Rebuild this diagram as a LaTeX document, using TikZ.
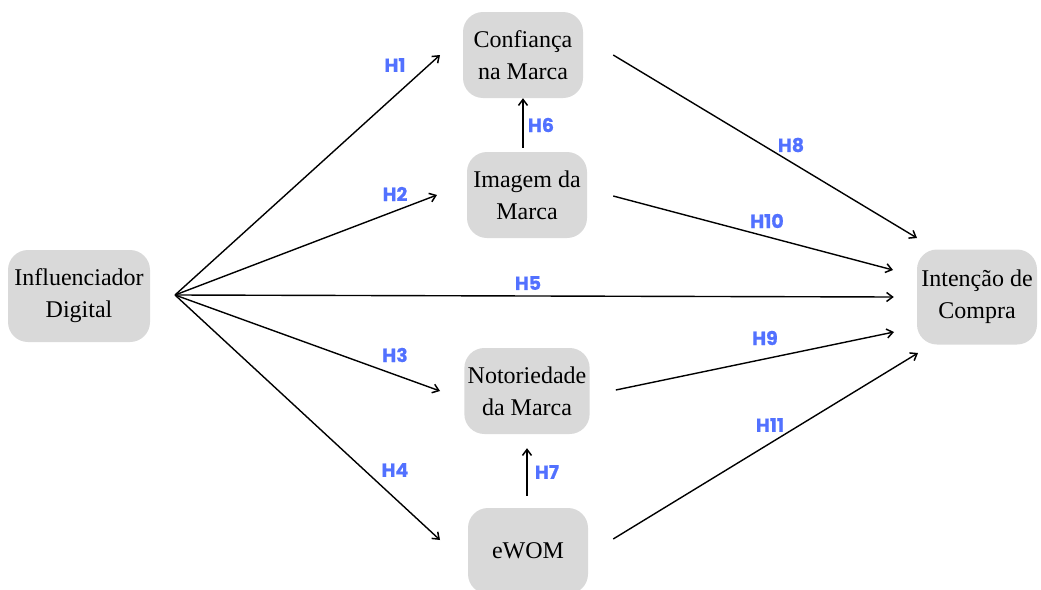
\documentclass[tikz,border=0pt]{standalone}
\usepackage{fontspec}
\setmainfont{Liberation Serif}
\newfontfamily\hfont{Poppins}[FakeBold=0.6]
\usepackage{tikz}
\usetikzlibrary{arrows.meta,calc}
\definecolor{boxgray}{HTML}{D9D9D9}
\definecolor{hblue}{HTML}{5271FF}

\tikzset{
  construct/.style={fill=boxgray,rounded corners=20pt,minimum width=120pt,minimum height=86pt,
    align=center,font=\fontsize{24}{32}\selectfont},
  hyp/.style={text=hblue,font=\hfont\bfseries\fontsize{19}{22}\selectfont},
  link/.style={-{Straight Barb[length=6pt,width=9pt,line width=1.5pt]},line width=1.4pt}
}

\begin{document}
\begin{tikzpicture}[x=1pt,y=-1pt]
  \clip (0,0) rectangle (1041,589);
  \useasboundingbox (0,0) rectangle (1041,589);
  % constructs
  \node[construct,minimum width=142pt,minimum height=92pt] (infl) at (79,296) {Influenciador\\Digital};
  \node[construct] (conf) at (523,55) {Confiança\\na Marca};
  \node[construct] (img) at (527,195) {Imagem da\\Marca};
  \node[construct] (noto) at (527,391) {Notoriedade\\da Marca};
  \node[construct] (ewom) at (528,551) {eWOM};
  \node[construct,minimum height=95pt] (int) at (977,297) {Intenção de\\Compra};
  % arrow ends
  \coordinate (src) at (175,295);
  \coordinate (confin) at (440,55);
  \coordinate (imgin) at (437,195);
  \coordinate (notoin) at (440,391);
  \coordinate (ewomin) at (440,540);
  \draw[link] (src) -- (confin);
  \draw[link] (src) -- (imgin);
  \draw[link] (src) -- (notoin);
  \draw[link] (src) -- (ewomin);
  \draw[link] (src) -- ([xshift=-23pt]int.west);
  \draw[link] ([yshift=4pt]conf.south |- img.north) -- (conf.south);
  \draw[link] ([xshift=-1pt,yshift=12pt]ewom.north) -- ([yshift=-14pt]noto.south);
  \draw[link] ([xshift=30pt]conf.east) -- (917,238);
  \draw[link] ([xshift=26pt,yshift=-1pt]img.east) -- (893,270);
  \draw[link] ([xshift=26pt,yshift=1pt]noto.east) -- (894,332);
  \draw[link] ([xshift=25pt,yshift=12pt]ewom.east) -- (918,353);
  % hypotheses
  \node[hyp] (h1) at (395,65) {H1};
  \node[hyp] (h2) at (395,194) {H2};
  \node[hyp] (h3) at (395,355) {H3};
  \node[hyp] (h4) at (395,470) {H4};
  \node[hyp] (h5) at (528,283) {H5};
  \node[hyp] (h6) at (541,125) {H6};
  \node[hyp] (h7) at (547,472) {H7};
  \node[hyp] (h8) at (791,145) {H8};
  \node[hyp] (h9) at (765,338) {H9};
  \node[hyp] (h10) at (767,221) {H10};
  \node[hyp] (h11) at (770,425) {H11};
\end{tikzpicture}
\end{document}
